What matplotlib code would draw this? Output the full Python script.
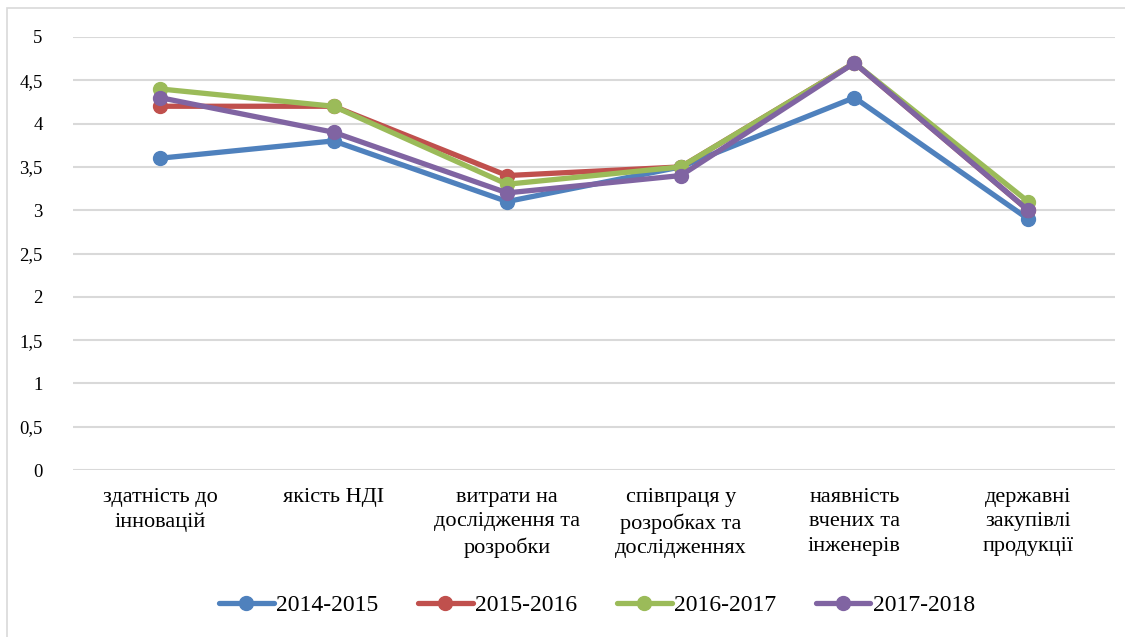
import matplotlib.pyplot as plt
from matplotlib.patches import Rectangle
from matplotlib.ticker import FuncFormatter

# Дані
categories = [
    "здатність до\nінновацій",
    "якість НДІ",
    "витрати на\nдослідження та\nрозробки",
    "співпраця у\nрозробках та\nдослідженнях",
    "наявність\nвчених та\nінженерів",
    "державні\nзакупівлі\nпродукції",
]
years = ["2014-2015", "2015-2016", "2016-2017", "2017-2018"]
v_2014 = [3.6, 3.8, 3.1, 3.5, 4.3, 2.9]
v_2015 = [4.2, 4.2, 3.4, 3.5, 4.7, 3.0]
v_2016 = [4.4, 4.2, 3.3, 3.5, 4.7, 3.1]
v_2017 = [4.3, 3.9, 3.2, 3.4, 4.7, 3.0]
colors = ["#4F81BD", "#C0504D", "#9BBB59", "#8064A2"]

plt.rcParams['font.family'] = ['Liberation Serif', 'DejaVu Serif']

fig = plt.figure(figsize=(11.25, 6.37), dpi=100)
ax = fig.add_axes([0.065, 0.262, 0.926, 0.68])

x = range(len(categories))
for vals, lab, c in zip([v_2014, v_2015, v_2016, v_2017], years, colors):
    ax.plot(x, vals, color=c, lw=3.8, marker='o', markersize=10,
            label=lab, solid_capstyle='round', zorder=3)

ax.set_xlim(-0.5, len(categories) - 0.5)
ax.set_ylim(0, 5)
ax.set_yticks([i * 0.5 for i in range(11)])
ax.yaxis.set_major_formatter(FuncFormatter(
    lambda v, p: (f"{v:g}").replace('.', ',')))
ax.set_xticks(list(x))
ax.set_xticklabels(categories, fontsize=16, linespacing=1.38)
ax.tick_params(axis='y', length=0, pad=22, labelsize=13.5)
ax.tick_params(axis='x', length=0, pad=13)
ax.grid(axis='y', color='#D9D9D9', lw=1.5, zorder=0)
for s in ax.spines.values():
    s.set_visible(False)

ax.legend(loc='center', bbox_to_anchor=(0.503, -0.312), ncol=4,
          frameon=False, fontsize=17, handlelength=2.3,
          columnspacing=1.7, handletextpad=0.1, borderaxespad=0)

# рамка навколо діаграми
fig.patches.append(Rectangle((0.006, -0.01), 1.2, 0.997, transform=fig.transFigure,
                             fill=False, edgecolor='#D9D9D9', lw=1.2))

fig.savefig('out.png', dpi=100)
